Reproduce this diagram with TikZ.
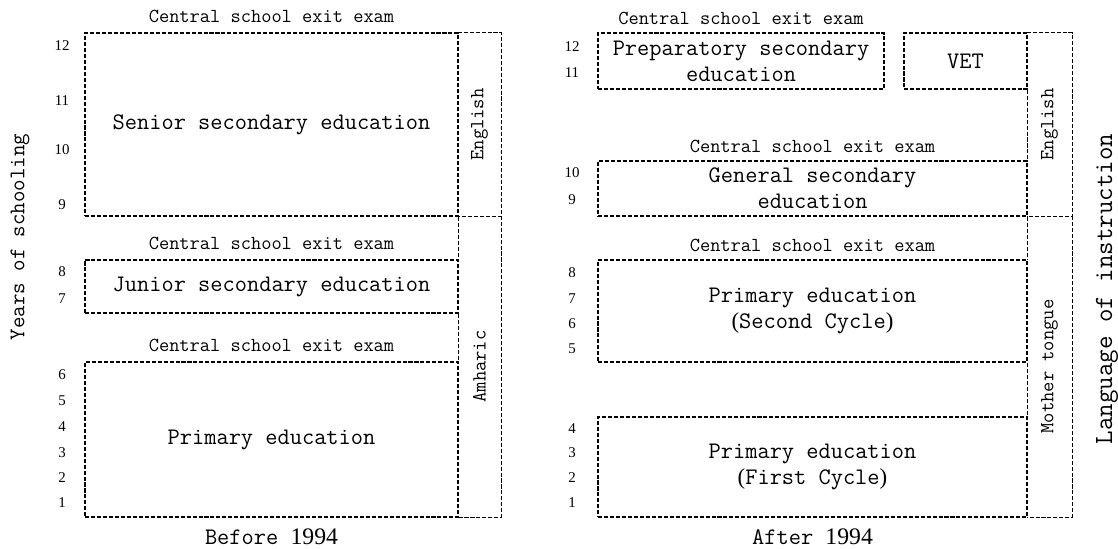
\documentclass[tikz,border=0pt]{standalone}
\usepackage{fontspec}
\setmainfont{Liberation Serif}
\usetikzlibrary{positioning,fit}

\begin{document}
\begin{tikzpicture}[x=0.02cm,y=-0.02cm,
		edubox/.style={draw, line width=0.8pt, dash pattern=on 2.3pt off 1.1pt, inner sep=0pt},
		eduline/.style={line width=0.8pt, dash pattern=on 2.3pt off 1.1pt},
		stage/.style={font=\fontsize{13.5}{14.8}\selectfont\ttfamily, align=center},
		exam/.style={font=\fontsize{11.3}{13}\selectfont\ttfamily, inner sep=0pt},
		lang/.style={font=\fontsize{11.4}{13}\selectfont\ttfamily, rotate=90},
		year/.style={font=\fontsize{8.5}{10}\selectfont\rmfamily, inner sep=0pt},
		era/.style={font=\fontsize{13.5}{15}\selectfont\ttfamily, inner sep=0pt}]
		\useasboundingbox (0,0) rectangle (1118,548);

		\node[edubox, fit={(85,33) (458,216)}] (senior) {};
		\node[edubox, fit={(85,260) (458,313)}] (junior) {};
		\node[edubox, fit={(85,362) (458,517)}] (primaryold) {};
		\node[inner sep=0pt, fit={(458,33) (501,216)}] (englishold) {};
		\node[inner sep=0pt, fit={(458,216) (501,517)}] (amharic) {};
		\draw[eduline] (englishold.north west) -- (englishold.north east) -- (englishold.south east) -- (englishold.south west);
		\draw[eduline] (amharic.north east) -- (amharic.south east) -- (amharic.south west);
		\draw[eduline] (senior.south east) -- (junior.north east);
		\draw[eduline] (junior.south east) -- (primaryold.north east);
		\node[stage] (seniortext) at (senior.center) {Senior secondary education};
		\node[stage] (juniortext) at (junior.center) {Junior secondary education};
		\node[stage] (primaryoldtext) at (primaryold.center) {Primary education};
		\node[lang] (englisholdtext) at (englishold.center) {English};
		\node[lang] (amharictext) at (amharic.center) {Amharic};
		\node[exam, above=5pt of senior] (examsenior) {Central school exit exam};
		\node[exam, above=5pt of junior] (examjunior) {Central school exit exam};
		\node[exam, above=5pt of primaryold] (examprimaryold) {Central school exit exam};
		\node[era, below=6pt of primaryold] (before) {Before {\rmfamily 1994}};

		\node[edubox, fit={(598,33) (884,89)}] (prep) {};
		\node[edubox, fit={(904,33) (1027,89)}] (vet) {};
		\node[edubox, fit={(598,161) (1027,216)}] (general) {};
		\node[edubox, fit={(598,260) (1027,362)}] (second) {};
		\node[edubox, fit={(598,417) (1027,517)}] (first) {};
		\node[inner sep=0pt, fit={(1027,33) (1072,216)}] (englishnew) {};
		\node[inner sep=0pt, fit={(1027,216) (1072,517)}] (mother) {};
		\draw[eduline] (englishnew.north west) -- (englishnew.north east) -- (englishnew.south east) -- (englishnew.south west);
		\draw[eduline] (mother.north east) -- (mother.south east) -- (mother.south west);
		\draw[eduline] (vet.south east) -- (general.north east);
		\draw[eduline] (general.south east) -- (second.north east);
		\draw[eduline] (second.south east) -- (first.north east);
		\node[stage] (preptext) at (prep.center) {Preparatory secondary\\education};
		\node[stage] (vettext) at (vet.center) {VET};
		\node[stage] (generaltext) at (general.center) {General secondary\\education};
		\node[stage] (secondtext) at (second.center) {Primary education\\{\fontsize{13}{14.8}\selectfont\rmfamily(}Second Cycle{\fontsize{13}{14.8}\selectfont\rmfamily)}};
		\node[stage] (firsttext) at (first.center) {Primary education\\{\fontsize{13}{14.8}\selectfont\rmfamily(}First Cycle{\fontsize{13}{14.8}\selectfont\rmfamily)}};
		\node[lang] (englishnewtext) at (englishnew.center) {English};
		\node[lang] (mothertext) at (mother.center) {Mother tongue};
		\node[exam, above=4pt of prep] (examprep) {Central school exit exam};
		\node[exam, above=4pt of general] (examgeneral) {Central school exit exam};
		\node[exam, above=4pt of second] (examsecond) {Central school exit exam};
		\node[era, below=6pt of first] (after) {After {\rmfamily 1994}};

		\node[font=\fontsize{12.7}{15}\selectfont\ttfamily, rotate=90] (years) at (20,237) {Years of schooling};
		\node[font=\fontsize{14.9}{17}\selectfont\ttfamily, rotate=90] (language) at (1107,289) {Language of instruction};

		\node[year] (l12) at (62,46) {12};
		\node[year] (l11) at (62,101) {11};
		\node[year] (l10) at (62,150) {10};
		\node[year] (l9) at (62,205) {9};
		\node[year] (l8) at (62,272) {8};
		\node[year] (l7) at (62,299) {7};
		\node[year] (l6) at (62,375) {6};
		\node[year] (l5) at (62,401) {5};
		\node[year] (l4) at (62,427) {4};
		\node[year] (l3) at (62,453) {3};
		\node[year] (l2) at (62,478) {2};
		\node[year] (l1) at (62,503) {1};

		\node[year] (r12) at (572,47) {12};
		\node[year] (r11) at (572,73) {11};
		\node[year] (r10) at (572,173) {10};
		\node[year] (r9) at (572,200) {9};
		\node[year] (r8) at (572,273) {8};
		\node[year] (r7) at (572,299) {7};
		\node[year] (r6) at (572,324) {6};
		\node[year] (r5) at (572,349) {5};
		\node[year] (r4) at (572,429) {4};
		\node[year] (r3) at (572,453) {3};
		\node[year] (r2) at (572,478) {2};
		\node[year] (r1) at (572,503) {1};
\end{tikzpicture}
\end{document}
